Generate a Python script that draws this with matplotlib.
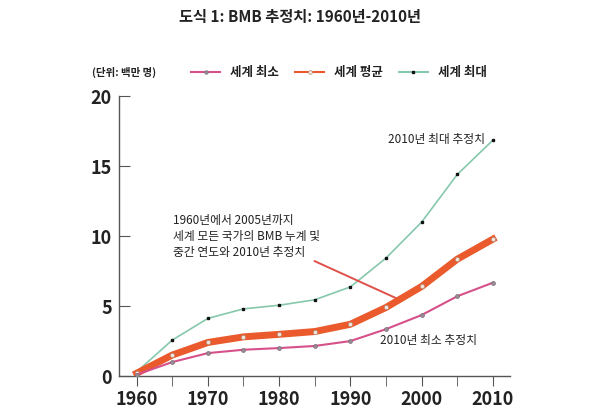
import matplotlib
matplotlib.use("Agg")
import matplotlib.pyplot as plt

plt.rcParams['font.family'] = ['Noto Sans CJK KR', 'DejaVu Sans']

# Data (millions)
years = [1960, 1965, 1970, 1975, 1980, 1985, 1990, 1995, 2000, 2005, 2010]
world_min = [0.1, 1.0, 1.64, 1.88, 2.0, 2.15, 2.5, 3.35, 4.36, 5.7, 6.67]
world_avg = [0.2, 1.5, 2.4, 2.8, 2.98, 3.18, 3.7, 4.9, 6.4, 8.35, 9.78]
world_max = [0.3, 2.57, 4.12, 4.8, 5.06, 5.45, 6.37, 8.43, 11.0, 14.4, 16.85]
x_ticks = [1960, 1970, 1980, 1990, 2000, 2010]
y_ticks = [0, 5, 10, 15, 20]

GREEN = '#86c8ac'
RED = '#ea5a2c'
PINK = '#d6508a'

fig = plt.figure(figsize=(6, 4.16), dpi=100)
ax = fig.add_axes([0.198, 0.096, 0.652, 0.673])

ax.plot(years, world_max, color=GREEN, lw=1.2, marker='s', markersize=1.9,
        markerfacecolor='#111111', markeredgecolor='#111111', label='세계 최대', zorder=2)
ax.plot(years, world_avg, color=RED, lw=5, marker='o', markersize=3,
        markerfacecolor='#f3e6dc', markeredgecolor='#b09080', markeredgewidth=0.5,
        label='세계 평균', zorder=3)
ax.plot(years, world_min, color=PINK, lw=1.5, marker='o', markersize=2.8,
        markerfacecolor='#9a8c95', markeredgecolor='#7a6c75', markeredgewidth=0.5,
        label='세계 최소', zorder=4)

ax.set_xlim(1957.5, 2012.4)
ax.set_ylim(0, 20)
ax.set_xticks(x_ticks)
ax.set_yticks(y_ticks)
ax.spines['top'].set_visible(False)
ax.spines['right'].set_visible(False)
for s in ('left', 'bottom'):
    ax.spines[s].set_color('#555555')
    ax.spines[s].set_linewidth(1.0)
ax.tick_params(axis='y', direction='in', length=8, color='#555555',
               labelsize=13, pad=5)
ax.tick_params(axis='x', direction='out', length=7, color='#555555',
               labelsize=13, pad=3)
for lbl in ax.get_xticklabels() + ax.get_yticklabels():
    lbl.set_fontweight('bold')
    lbl.set_color('#222222')
# minor x ticks every 5 years
ax.set_xticks([1965, 1975, 1985, 1995, 2005], minor=True)
ax.tick_params(axis='x', which='minor', direction='out', length=7, color='#555555')

# annotations
ax.text(2008.9, 16.9, '2010년 최대 추정치', ha='right', va='center', fontsize=8.5, color='#222222')
ax.text(2000.9, 2.57, '2010년 최소 추정치', ha='center', va='center', fontsize=8.5, color='#222222')
ax.text(1965.1, 9.95, '1960년에서 2005년까지\n세계 모든 국가의 BMB 누계 및\n중간 연도와 2010년 추정치',
        ha='left', va='center', fontsize=8.5, color='#222222', linespacing=1.3)
ax.annotate('', xy=(1996.7, 5.5), xytext=(1984.6, 8.3),
            arrowprops=dict(arrowstyle='-', color='#e0504a', lw=1.4))

# title, unit, legend
fig.text(0.5, 0.958, '도식 1: BMB 추정치: 1960년-2010년', ha='center', va='center',
         fontsize=11, fontweight='bold', color='#222222')
fig.text(0.153, 0.826, '(단위: 백만 명)', ha='left', va='center', fontsize=7.5,
         fontweight='bold', color='#222222')
handles, labels = ax.get_legend_handles_labels()
order = [2, 1, 0]
leg = fig.legend([handles[i] for i in order], [labels[i] for i in order],
                 loc='center left', bbox_to_anchor=(0.3, 0.826), ncol=3, frameon=False,
                 fontsize=9, handlelength=2.3, columnspacing=1.3, handletextpad=0.8,
                 markerscale=0.9)
for h in leg.legend_handles:
    h.set_linewidth(1.5)
for t in leg.get_texts():
    t.set_fontweight('bold')
    t.set_color('#222222')

fig.savefig('out.png', dpi=100)
